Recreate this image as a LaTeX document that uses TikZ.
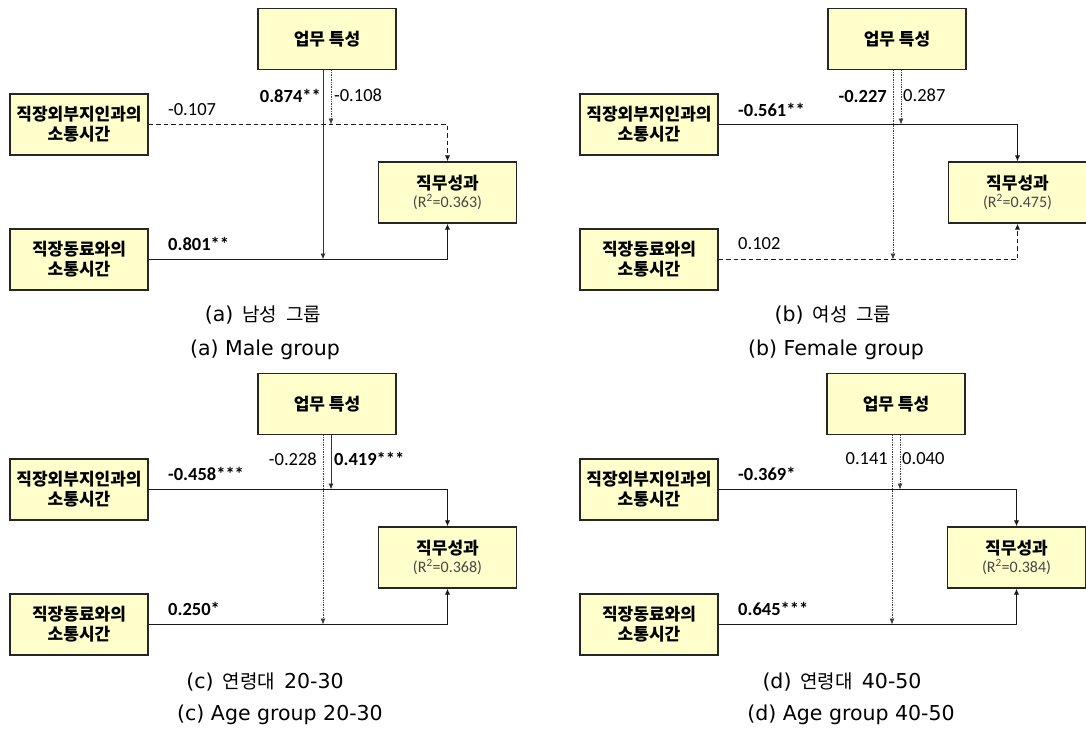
\documentclass[tikz,border=0pt]{standalone}
\usepackage{fontspec}
\usepackage{tikz}
\usetikzlibrary{arrows.meta}
\newfontfamily\krfont{Noto Sans CJK KR}
\newfontfamily\latfont{DejaVu Sans}
\newfontfamily\numfont{Carlito}
\definecolor{boxfill}{RGB}{255,255,204}
\definecolor{rsqgray}{RGB}{70,70,70}
\newcommand{\rsq}{\numfont\mdseries\fontsize{16}{18}\selectfont\color{rsqgray}}
\newcommand{\capen}{\latfont\fontsize{20.5}{22}\selectfont}
\newcommand{\gap}{\hspace{9pt}}

\begin{document}
\begin{tikzpicture}[x=1pt,y=-1pt]
			\tikzstyle{box} = [draw=black!85, fill=boxfill, line width=1.4pt, minimum width=138pt, minimum height=61pt, inner sep=0pt, align=center, font=\krfont\bfseries\fontsize{17}{20}\selectfont]
			\tikzstyle{coef} = [inner sep=0pt, font=\numfont\fontsize{18.5}{20}\selectfont]
			\tikzstyle{sig} = [inner sep=0pt, font=\numfont\bfseries\fontsize{18.5}{20}\selectfont]
			\tikzstyle{capt} = [inner sep=0pt, font=\krfont\fontsize{19}{21}\selectfont]
			\tikzstyle{mainline} = [line width=1.6pt, black!90, -{Latex[length=6pt,width=5.5pt]}]
			\tikzstyle{mainns} = [mainline, dash pattern=on 4.5pt off 3pt]
			\tikzstyle{modline} = [line width=0.9pt, black!80, -{Latex[length=6pt,width=5pt]}]
			\tikzstyle{modns} = [line width=0.7pt, black!75, densely dotted, -{Latex[length=6pt,width=5pt]}]
			\useasboundingbox (0,0) rectangle (1086,731);
			% (a)
			\node[box] (taskA) at (327,39) {업무 특성};
			\node[box] (extA) at (79,124.5) {직장외부지인과의\\소통시간};
			\node[box] (peerA) at (79,259.5) {직장동료와의\\소통시간};
			\node[box] (perfA) at (447.5,192.5) {직무성과\\[-2pt]{\rsq(R\textsuperscript{2}=0.363)}};
			\draw[mainns] (extA.east) -| (perfA.north);
			\draw[mainline] (peerA.east) -| (perfA.south);
			\draw[modline] ([xshift=-4pt]taskA.south) -- ([xshift=-4pt]taskA.south |- peerA.east);
			\draw[modns] ([xshift=4pt]taskA.south) -- ([xshift=4pt]taskA.south |- extA.east);
			\node[sig, anchor=east] (bA1) at (321,96) {0.874**};
			\node[coef, anchor=west] (bA2) at (334,95) {-0.108};
			\node[coef, anchor=west] (bA3) at (168,110) {-0.107};
			\node[sig, anchor=west] (bA4) at (168,244) {0.801**};
			\node[capt] (capA1) at (263,315) {{\capen(a)}\gap 남성\gap 그룹};
			\node[capt] (capA2) at (265,350) {\capen(a) Male group};
			% (b)
			\begin{scope}[shift={(570,0)}]
				\node[box] (taskB) at (327,39) {업무 특성};
				\node[box] (extB) at (79,124.5) {직장외부지인과의\\소통시간};
				\node[box] (peerB) at (79,259.5) {직장동료와의\\소통시간};
				\node[box] (perfB) at (447.5,192.5) {직무성과\\[-2pt]{\rsq(R\textsuperscript{2}=0.475)}};
				\draw[mainline] (extB.east) -| (perfB.north);
				\draw[mainns] (peerB.east) -| (perfB.south);
				\draw[modns] ([xshift=-4pt]taskB.south) -- ([xshift=-4pt]taskB.south |- peerB.east);
				\draw[modns] ([xshift=4pt]taskB.south) -- ([xshift=4pt]taskB.south |- extB.east);
				\node[sig, anchor=east] (bB1) at (317,96) {-0.227};
				\node[coef, anchor=west] (bB2) at (333,95) {0.287};
				\node[sig, anchor=west] (bB3) at (168,110) {-0.561**};
				\node[coef, anchor=west] (bB4) at (168,244) {0.102};
				\node[capt] (capB1) at (263,315) {{\capen(b)}\gap 여성\gap 그룹};
				\node[capt] (capB2) at (266,350) {\capen(b) Female group};
			\end{scope}
			% (c)
			\begin{scope}[shift={(0,365)}]
				\node[box] (taskC) at (327,39) {업무 특성};
				\node[box] (extC) at (79,124.5) {직장외부지인과의\\소통시간};
				\node[box] (peerC) at (79,259.5) {직장동료와의\\소통시간};
				\node[box] (perfC) at (447.5,192.5) {직무성과\\[-2pt]{\rsq(R\textsuperscript{2}=0.368)}};
				\draw[mainline] (extC.east) -| (perfC.north);
				\draw[mainline] (peerC.east) -| (perfC.south);
				\draw[modns] ([xshift=-4pt]taskC.south) -- ([xshift=-4pt]taskC.south |- peerC.east);
				\draw[modline] ([xshift=4pt]taskC.south) -- ([xshift=4pt]taskC.south |- extC.east);
				\node[coef, anchor=east] (bC1) at (317,94) {-0.228};
				\node[sig, anchor=west] (bC2) at (334,94) {0.419***};
				\node[sig, anchor=west] (bC3) at (168,109) {-0.458***};
				\node[sig, anchor=west] (bC4) at (168,244) {0.250*};
				\node[capt] (capC1) at (265,317) {{\capen(c)}\gap 연령대\gap{\capen 20-30}};
				\node[capt] (capC2) at (280,350) {\capen(c) Age group 20-30};
			\end{scope}
			% (d)
			\begin{scope}[shift={(570,365)}]
				\node[box] (taskD) at (326,39) {업무 특성};
				\node[box] (extD) at (79,124.5) {직장외부지인과의\\소통시간};
				\node[box] (peerD) at (79,259.5) {직장동료와의\\소통시간};
				\node[box] (perfD) at (446.5,192.5) {직무성과\\[-2pt]{\rsq(R\textsuperscript{2}=0.384)}};
				\draw[mainline] (extD.east) -| (perfD.north);
				\draw[mainline] (peerD.east) -| (perfD.south);
				\draw[modns] ([xshift=-4pt]taskD.south) -- ([xshift=-4pt]taskD.south |- peerD.east);
				\draw[modns] ([xshift=4pt]taskD.south) -- ([xshift=4pt]taskD.south |- extD.east);
				\node[coef, anchor=east] (bD1) at (318,94) {0.141};
				\node[coef, anchor=west] (bD2) at (332,94) {0.040};
				\node[sig, anchor=west] (bD3) at (168,109) {-0.369*};
				\node[sig, anchor=west] (bD4) at (168,244) {0.645***};
				\node[capt] (capD1) at (272,317) {{\capen(d)}\gap 연령대\gap{\capen 40-50}};
				\node[capt] (capD2) at (281,350) {\capen(d) Age group 40-50};
			\end{scope}
\end{tikzpicture}
\end{document}
